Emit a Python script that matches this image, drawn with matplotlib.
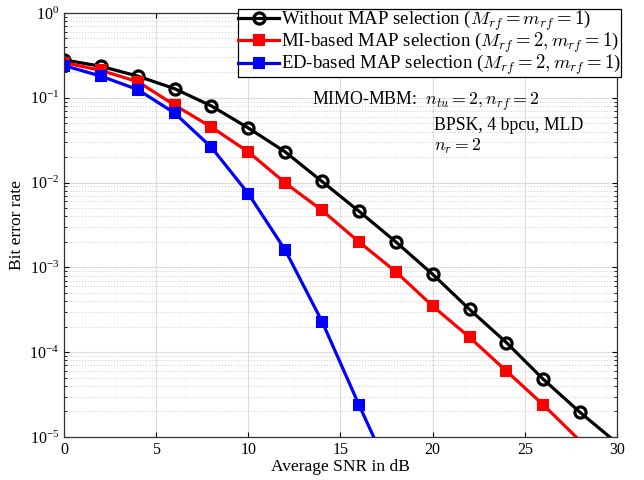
import numpy as np
import matplotlib
matplotlib.use('Agg')
import matplotlib.pyplot as plt
from matplotlib.ticker import LogLocator, NullFormatter, MultipleLocator
from matplotlib.font_manager import FontProperties

plt.rcParams['font.family'] = 'Liberation Serif'
plt.rcParams['mathtext.fontset'] = 'stix'

snr_black = [0, 2, 4, 6, 8, 10, 12, 14, 16, 18, 20, 22, 24, 26, 28, 30]
ber_black = [0.28, 0.235, 0.18, 0.128, 0.080, 0.044, 0.023, 0.0103, 0.0046, 0.0020,
             8.3e-4, 3.2e-4, 1.3e-4, 4.8e-5, 1.95e-5, 8.5e-6]
snr_red = [0, 2, 4, 6, 8, 10, 12, 14, 16, 18, 20, 22, 24, 26, 28]
ber_red = [0.26, 0.21, 0.155, 0.082, 0.045, 0.023, 0.0099, 0.0047, 0.0020, 8.9e-4,
           3.5e-4, 1.5e-4, 6.0e-5, 2.4e-5, 9.0e-6]
snr_blue = [0, 2, 4, 6, 8, 10, 12, 14, 16, 18]
ber_blue = [0.24, 0.18, 0.125, 0.066, 0.026, 0.0074, 0.0016, 2.3e-4, 2.4e-5, 2.7e-6]

labels = [r'Without MAP selection ($M_{rf} = m_{rf} = 1$)',
          r'MI-based MAP selection ($M_{rf} = 2, m_{rf} = 1$)',
          r'ED-based MAP selection ($M_{rf} = 2, m_{rf} = 1$)']

ymin, ymax = 1e-5, 1


def inside(vals):
    # markers only where the point is inside the axes, like the original
    return [i for i, v in enumerate(vals) if ymin <= v <= ymax]


fig = plt.figure(figsize=(6.44, 4.8), dpi=100)
ax = fig.add_axes([0.0994, 0.0896, 0.8586, 0.8834])

ax.semilogy(snr_black, ber_black, color='black', lw=2.3, marker='o', ms=8,
            mfc='none', mew=2.3, markevery=inside(ber_black), label=labels[0])
ax.semilogy(snr_red, ber_red, color='red', lw=2.3, marker='s', ms=7,
            mfc='red', mew=1.5, markevery=inside(ber_red), label=labels[1])
ax.semilogy(snr_blue, ber_blue, color='blue', lw=2.3, marker='s', ms=7,
            mfc='blue', mew=1.5, markevery=inside(ber_blue), label=labels[2])

ax.set_xlim(0, 30)
ax.set_ylim(ymin, ymax)
ax.xaxis.set_major_locator(MultipleLocator(5))
ax.yaxis.set_major_locator(LogLocator(base=10, numticks=10))
ax.yaxis.set_minor_locator(LogLocator(base=10, subs=np.arange(2, 10), numticks=10))
ax.yaxis.set_minor_formatter(NullFormatter())
ax.grid(True, which='major', color='#dddddd', lw=0.8)
ax.grid(True, which='minor', axis='y', color='#cccccc', lw=0.7, ls=(0, (1, 2)))
ax.tick_params(which='both', direction='in', top=True, right=True, labelsize=11.5)
for s in ax.spines.values():
    s.set_linewidth(0.9)
    s.set_color('#333333')

ax.set_xlabel('Average SNR in dB', fontsize=12.5, labelpad=1)
ax.set_ylabel('Bit error rate', fontsize=12.5, labelpad=3)

lp = FontProperties(family='Liberation Serif', size=13.5, math_fontfamily='cm')
leg = ax.legend(loc='upper right', bbox_to_anchor=(1.008, 1.01), prop=lp,
                handlelength=2.2, handletextpad=0.1, borderpad=0.0,
                labelspacing=-0.12, borderaxespad=0, fancybox=False, framealpha=1)
leg.get_frame().set_edgecolor('black')
leg.get_frame().set_linewidth(0.9)

tp = dict(fontsize=12.8, math_fontfamily='cm', transform=ax.transAxes)
ax.text(0.448, 0.783, r'MIMO-MBM:  $n_{tu} = 2, n_{rf} = 2$', **tp)
ax.text(0.670, 0.725, 'BPSK, 4 bpcu, MLD', **tp)
ax.text(0.670, 0.675, r'$n_r = 2$', **tp)

fig.savefig('out.png', dpi=100)
